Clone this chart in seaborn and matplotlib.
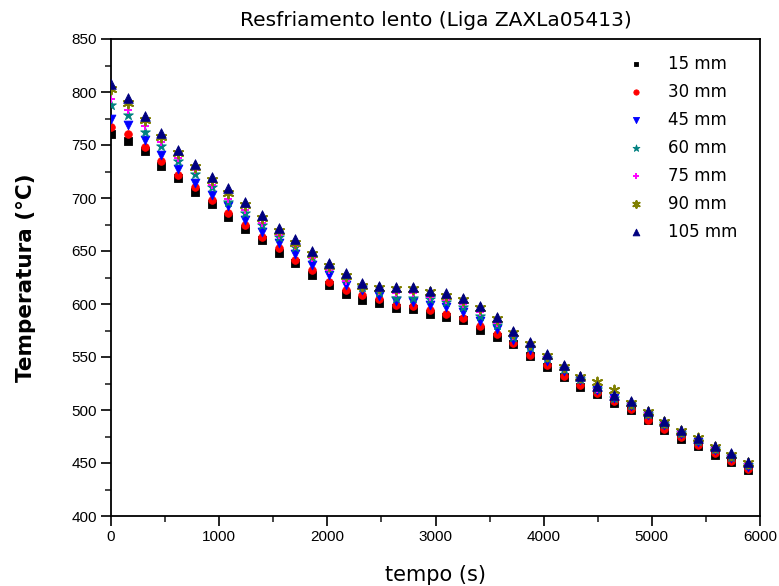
import matplotlib
matplotlib.use("Agg")
import matplotlib.pyplot as plt
import numpy as np
import pandas as pd
import seaborn as sns
from matplotlib.ticker import MultipleLocator

tempo = [0, 155, 310, 465, 620, 775, 930, 1085, 1240, 1395, 1550, 1705, 1860,
         2015, 2170, 2325, 2480, 2635, 2790, 2945, 3100, 3255, 3410, 3565, 3720,
         3875, 4030, 4185, 4340, 4495, 4650, 4805, 4960, 5115, 5270, 5425, 5580,
         5735, 5890]

t15 = [760, 754, 744, 730.5, 718.5, 706, 694, 682, 670.5, 660, 648.5, 639, 627.5,
       618, 609.5, 604, 601, 596, 595.5, 591, 588, 584.5, 575.5, 569, 562, 550.5,
       541, 531.5, 522, 515.5, 507, 500, 490.5, 481.5, 473, 466, 458, 451, 443.5]
t30 = [767, 760, 748.5, 735, 721.5, 710, 698, 686, 674.5, 663, 652.5, 641.5, 632,
       621, 613, 608.5, 604.5, 599.5, 598.5, 594, 591, 587, 579, 572, 563, 552,
       542, 532, 523.5, 516, 508.5, 500.5, 491, 482, 474.5, 467, 459, 452, 444.5]
t45 = [775, 769, 754.5, 740.5, 727, 714, 703, 692, 679, 668, 658, 647, 637,
       627.5, 618, 613, 607.5, 603, 602, 599, 597, 592.5, 583.5, 576, 566, 556.5,
       546.5, 537, 528, 519, 511.5, 504, 495, 486, 477, 470, 462, 455, 446]
t60 = [788, 778, 762.5, 749, 735, 722.5, 710, 696.5, 685.5, 674.5, 663.5, 653.5,
       644, 634, 624, 616, 611, 606, 606, 604.5, 602, 597, 588.5, 580, 569, 559,
       549, 538.5, 529, 520, 511.5, 505, 496, 487, 478, 471, 463, 456, 448]
t75 = [793, 783, 768, 753, 737.5, 726.5, 712, 699, 688.5, 676, 665, 654.5, 643,
       632.5, 622, 616, 612, 610, 610, 606.5, 604, 600, 592, 582, 570, 560, 550,
       539, 529.5, 520, 512, 506, 497, 487.5, 479, 472, 464, 456.5, 449]
t90 = [802.5, 790, 773.5, 758, 742, 729, 717, 705, 693, 681, 669, 658, 647, 636,
       626, 617, 615, 614, 614, 611, 608, 603.5, 596, 586, 572.5, 562, 551, 540.5,
       531, 526.5, 519, 507, 498, 488.5, 480, 473.5, 465, 458, 450]
t105 = [807.5, 794, 777, 761, 745, 732, 720, 709, 696.5, 684, 672, 661, 650, 639,
        629, 619.5, 617, 616, 616, 612.5, 610, 605.5, 598, 588, 574.5, 564, 552.5,
        542, 532.5, 523, 514, 508.5, 499, 489.5, 481, 474, 466, 459, 451]

labels = ["15 mm", "30 mm", "45 mm", "60 mm", "75 mm", "90 mm", "105 mm"]
values = [t15, t30, t45, t60, t75, t90, t105]

x_ticks = [0, 1000, 2000, 3000, 4000, 5000, 6000]
y_ticks = [400, 450, 500, 550, 600, 650, 700, 750, 800, 850]

colors = ["#000000", "#ff0000", "#0000ff", "#008080", "#ff00ff", "#808000", "#000080"]
markers = ["s", "o", "v", "*", "+", (6, 2, 0), "^"]
sizes = [26, 30, 40, 55, 40, 50, 48]

df = pd.concat([pd.DataFrame({"tempo": tempo, "temp": v, "serie": lab})
                for lab, v in zip(labels, values)], ignore_index=True)

sns.set_style("white")
plt.rcParams["font.family"] = ["DejaVu Sans"]
plt.rcParams["text.color"] = "black"
plt.rcParams["axes.labelcolor"] = "black"

fig = plt.figure(figsize=(7.79, 5.86), dpi=100)
ax = fig.add_axes([111 / 779, 70 / 586, 649 / 779, 477 / 586])

for lab, c, m, s in zip(labels, colors, markers, sizes):
    sub = df[df["serie"] == lab]
    filled = m not in ("+", (6, 2, 0))
    kw = dict(edgecolor=c, linewidth=0.6) if filled else dict(linewidth=1.4)
    sns.scatterplot(data=sub, x="tempo", y="temp", marker=m, color=c, s=s,
                    label=lab, ax=ax, zorder=3, **kw)

ax.set_xlim(0, 6000)
ax.set_ylim(400, 850)
ax.set_xticks(x_ticks)
ax.set_yticks(y_ticks)
ax.xaxis.set_minor_locator(MultipleLocator(500))
ax.yaxis.set_minor_locator(MultipleLocator(25))
ax.tick_params(which="major", direction="out", length=7, width=1.2,
               bottom=True, left=True, top=False, right=False, pad=3,
               labelsize=11, colors="black")
ax.tick_params(which="minor", direction="out", length=4, width=1.2,
               bottom=True, left=True, top=False, right=False)
for lbl in ax.get_xticklabels() + ax.get_yticklabels():
    lbl.set_fontfamily("Liberation Sans")

for sp in ax.spines.values():
    sp.set_color("black")
    sp.set_linewidth(1.3)
    sp.set_visible(True)

ax.set_title("Resfriamento lento (Liga ZAXLa05413)", fontsize=14.5, pad=9)
ax.set_xlabel("tempo (s)", fontsize=15, labelpad=15)
ax.set_ylabel("Temperatura (°C)", fontsize=15.5, fontweight="bold", labelpad=26)

leg = ax.legend(loc="upper left", bbox_to_anchor=(613 / 779, 1 - 48 / 586),
                bbox_transform=fig.transFigure, frameon=False, fontsize=12,
                handletextpad=0.9, labelspacing=0.6, markerscale=0.7,
                borderaxespad=0)

fig.savefig("out.png", dpi=100)
